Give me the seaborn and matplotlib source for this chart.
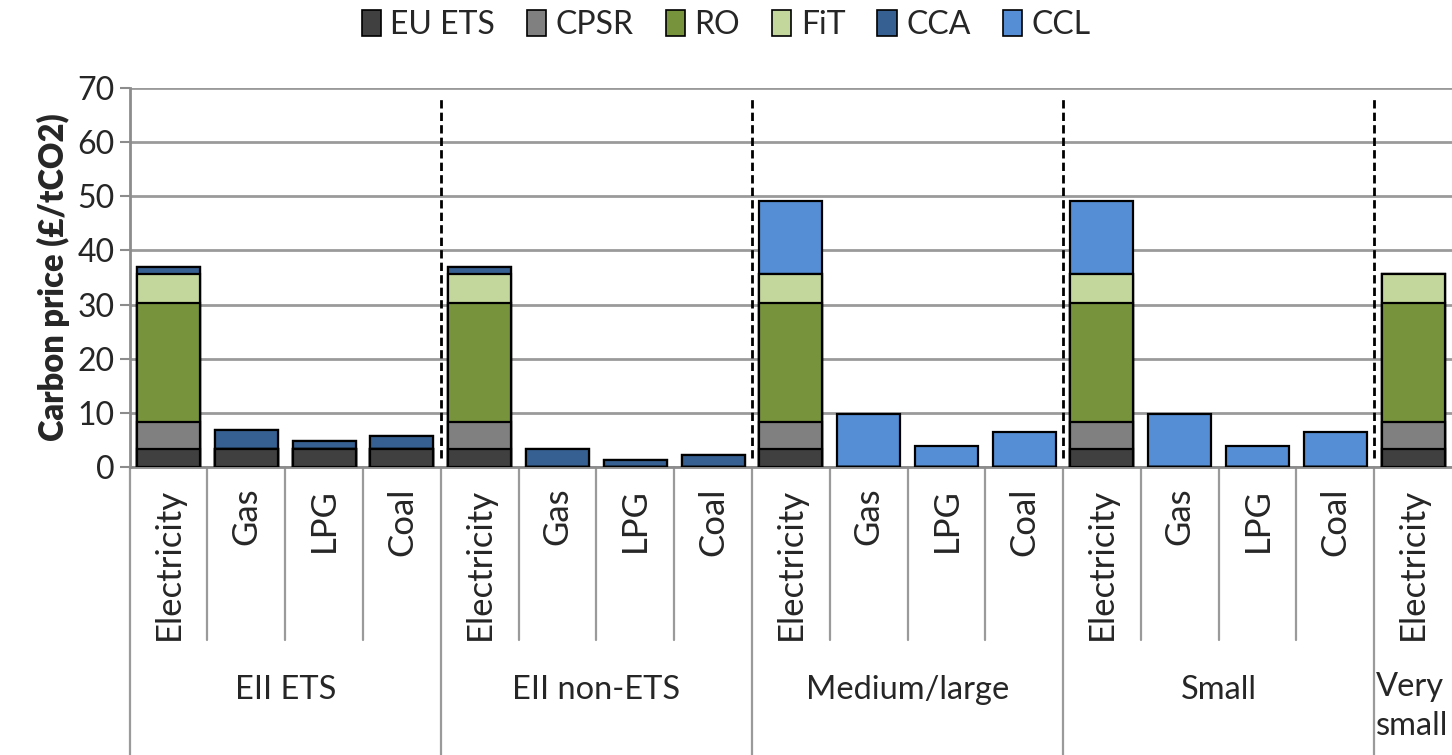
import pandas as pd
import numpy as np
import matplotlib
matplotlib.use("Agg")
import matplotlib.pyplot as plt
from matplotlib.patches import Patch
import seaborn as sns

# data (carbon price, £/tCO2)
fuels = ["Electricity", "Gas", "LPG", "Coal"] * 4 + ["Electricity"]
groups = ["EII ETS", "EII non-ETS", "Medium/large", "Small", "Very\nsmall"]
layers = ["EU ETS", "CPSR", "RO", "FiT", "CCA", "CCL"]
colors = ["#404040", "#808080", "#77933C", "#C3D69B", "#376092", "#558ED5"]

eu_ets = [3.3, 3.3, 3.3, 3.3, 3.3, 0, 0, 0, 3.3, 0, 0, 0, 3.3, 0, 0, 0, 3.3]
cpsr = [5.0, 0, 0, 0, 5.0, 0, 0, 0, 5.0, 0, 0, 0, 5.0, 0, 0, 0, 5.0]
ro = [22.0, 0, 0, 0, 22.0, 0, 0, 0, 22.0, 0, 0, 0, 22.0, 0, 0, 0, 22.0]
fit = [5.3, 0, 0, 0, 5.3, 0, 0, 0, 5.3, 0, 0, 0, 5.3, 0, 0, 0, 5.3]
cca = [1.4, 3.5, 1.45, 2.4, 1.4, 3.3, 1.3, 2.2, 0, 0, 0, 0, 0, 0, 0, 0, 0]
ccl = [0, 0, 0, 0, 0, 0, 0, 0, 13.5, 9.7, 3.9, 6.5, 13.5, 9.7, 3.9, 6.5, 0]

df = pd.DataFrame({"EU ETS": eu_ets, "CPSR": cpsr, "RO": ro,
                   "FiT": fit, "CCA": cca, "CCL": ccl})
df["pos"] = range(len(fuels))
cum = df[layers].cumsum(axis=1)
cum["pos"] = df["pos"]

sns.set_style("white")
plt.rcParams["font.family"] = ["Lato", "DejaVu Sans"]

fig = plt.figure(figsize=(14.52, 7.55), dpi=100)
ax = fig.add_axes([0.0893, 0.3815, 0.9107, 0.502])

# stacked bars: draw cumulative totals from top layer down
for layer, col in reversed(list(zip(layers, colors))):
    sns.barplot(data=cum, x="pos", y=layer, color=col, width=0.81,
                edgecolor="black", linewidth=1.6, saturation=1, ax=ax, zorder=3)

ax.set_xlim(-0.5, len(fuels) - 0.5)
ax.set_ylim(0, 70)
ax.set_yticks(range(0, 71, 10))
ax.tick_params(axis="y", labelsize=23, length=7, width=1.5, color="#8c8c8c",
               direction="out", left=True, pad=4)
ax.tick_params(axis="x", bottom=False, labelbottom=False)
ax.set_xlabel("")
ax.set_ylabel("Carbon price (£/tCO2)", fontsize=23.5, fontweight="heavy", labelpad=5)
ax.yaxis.grid(True, color="#9a9a9a", linewidth=2)
ax.set_axisbelow(True)
for s in ["top", "right"]:
    ax.spines[s].set_visible(False)
for s in ["left", "bottom"]:
    ax.spines[s].set_color("#8c8c8c")
    ax.spines[s].set_linewidth(2)

# dashed separators between groups
for b in [3.5, 7.5, 11.5, 15.5]:
    ax.plot([b, b], [1.6, 68.3], color="black", linestyle=(0, (3, 1.5)),
            linewidth=2, zorder=4)

# multi-level category axis
tr = ax.get_xaxis_transform()
for i, f in enumerate(fuels):
    ax.text(i, -0.055, f, rotation=90, ha="center", va="top", fontsize=25,
            transform=tr)
for i in range(1, len(fuels)):
    y_end = -0.76 if i % 4 == 0 else -0.456
    ax.plot([i - 0.5, i - 0.5], [0, y_end], color="#9a9a9a", linewidth=1.6,
            transform=tr, clip_on=False)
ax.plot([-0.5, -0.5], [0, -0.76], color="#9a9a9a", linewidth=1.6,
        transform=tr, clip_on=False)
for g, name in enumerate(groups[:4]):
    ax.text(g * 4 + 1.5, -0.588, name, ha="center", va="center", fontsize=23.5,
            transform=tr)
ax.text(15.52, -0.54, groups[4], ha="left", va="top", fontsize=23.5,
        linespacing=1.4, transform=tr)

handles = [Patch(facecolor=c, edgecolor="black", linewidth=1.2) for c in colors]
fig.legend(handles, layers, loc="upper center", bbox_to_anchor=(0.5, 1.025),
           ncol=6, frameon=False, fontsize=23, handlelength=0.6,
           handleheight=0.9, handletextpad=0.3, columnspacing=1.0)

fig.savefig("out.png", dpi=100)
